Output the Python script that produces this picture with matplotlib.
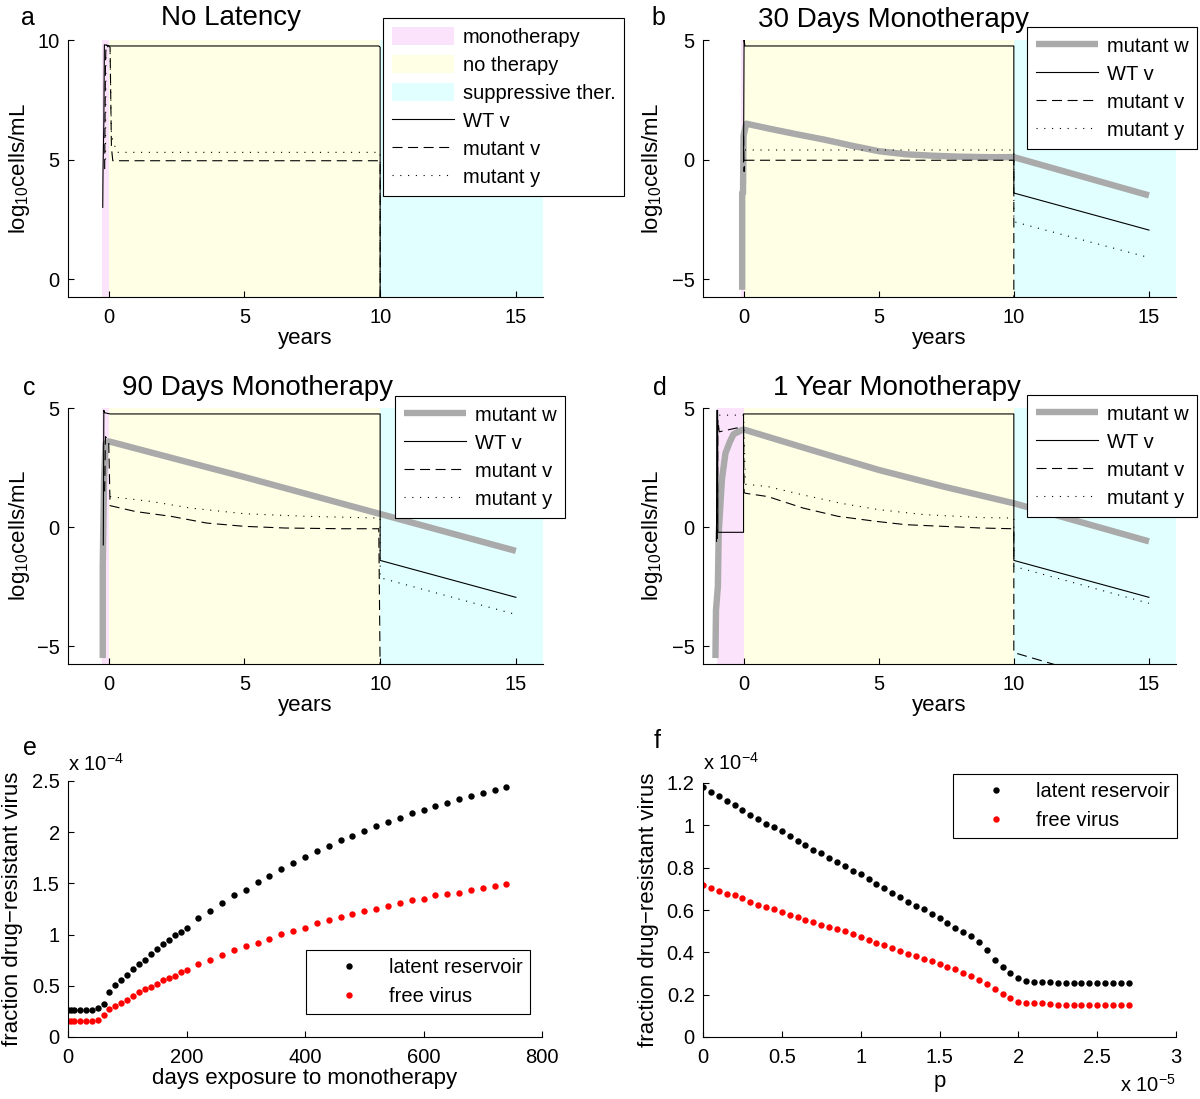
import matplotlib
matplotlib.use('Agg')
import matplotlib.pyplot as plt
from matplotlib.patches import Patch
from matplotlib.lines import Line2D
from matplotlib.ticker import FuncFormatter

plt.rcParams['font.family'] = ['Liberation Sans', 'DejaVu Sans']
plt.rcParams['mathtext.fontset'] = 'custom'
plt.rcParams['mathtext.rm'] = 'Liberation Sans'
plt.rcParams['mathtext.it'] = 'Liberation Sans:italic'
plt.rcParams['mathtext.bf'] = 'Liberation Sans:bold'
plt.rcParams['axes.unicode_minus'] = True

# ---------------- data ----------------
# phase boundaries: [monotherapy start, no-therapy start, suppressive start, end]
a_phase = [-0.25, 0.0, 10.0, 16.0]
b_phase = [-0.08, 0.0, 10.0, 16.0]
c_phase = [-0.25, 0.0, 10.0, 16.0]
d_phase = [-1.0, 0.0, 10.0, 16.0]

# panel a (No Latency)
a_wt_t = [-0.22, -0.21, -0.18, -0.16, 0.05, 9.95, 10.0, 10.0]
a_wt_v = [3.0, 4.5, 6.5, 9.8, 9.75, 9.75, 9.7, -1.0]
a_mv_t = [-0.15, -0.12, -0.1, 0.05, 0.1, 0.15, 10.0, 10.0]
a_mv_v = [4.6, 9.0, 9.8, 9.7, 5.5, 4.95, 4.95, -1.0]
a_my_t = [-0.12, -0.1, 0.05, 0.1, 0.3, 10.0, 10.0]
a_my_v = [5.0, 9.8, 9.6, 6.0, 5.3, 5.3, -1.0]

# panel b (30 days)
b_mw_t = [-0.05, -0.05, -0.02, 0.0, 0.1, 1.0, 2.0, 3.0, 4.0, 5.0, 6.0, 7.0, 8.0, 9.0, 10.0, 15.0]
b_mw_v = [-5.45, -1.4, -1.4, 1.0, 1.5, 1.28, 1.05, 0.83, 0.58, 0.35, 0.22, 0.16, 0.12, 0.1, 0.1, -1.5]
b_wt_t = [0.0, 0.02, 0.05, 9.95, 10.0, 10.0, 15.0]
b_wt_v = [-0.1, 5.0, 4.75, 4.75, 4.75, -1.4, -2.95]
b_mv_t = [0.0, 0.02, 0.05, 0.1, 10.0, 10.0]
b_mv_v = [1.0, -0.5, -0.03, -0.03, -0.03, -6.0]
b_my_t = [0.05, 10.0, 10.0, 15.0]
b_my_v = [0.4, 0.4, -2.6, -4.1]

# panel c (90 days)
c_mw_t = [-0.22, -0.22, -0.2, -0.17, -0.12, 0.0, 5.0, 10.0, 15.0]
c_mw_v = [-5.5, -1.7, 0.0, 2.0, 3.5, 3.6, 2.1, 0.55, -1.0]
c_wt_t = [-0.2, -0.18, -0.15, 0.05, 9.95, 10.0, 10.0, 15.0]
c_wt_v = [-0.75, 4.9, 4.8, 4.75, 4.75, 4.75, -1.4, -2.95]
c_mv_t = [-0.15, -0.12, 0.0, 0.05, 1.0, 2.3, 3.6, 5.0, 6.5, 8.6, 9.95, 10.0]
c_mv_v = [1.5, 3.8, 3.6, 0.9, 0.65, 0.45, 0.17, 0.03, -0.04, -0.07, -0.07, -6.0]
c_my_t = [0.05, 1.6, 3.0, 5.0, 7.3, 9.9, 10.0, 10.0, 15.0]
c_my_v = [1.28, 1.07, 0.8, 0.56, 0.45, 0.38, 0.38, -2.13, -3.67]

# panel d (1 year)
d_mw_t = [-1.04, -1.02, -0.95, -0.92, -0.8, -0.67, -0.5, -0.37, -0.2, 0.0, 2.5, 5.0, 7.4, 10.0, 15.0]
d_mw_v = [-5.5, -3.5, -2.5, -0.25, 2.0, 3.1, 3.6, 3.9, 4.0, 4.1, 3.24, 2.4, 1.7, 1.0, -0.6]
d_wt_t = [-1.0, -0.99, -0.96, -0.95, 0.0, 0.0, 10.0, 10.0, 15.0]
d_wt_v = [-0.6, 4.9, 4.9, -0.22, -0.22, 4.75, 4.75, -1.4, -2.95]
d_mv_t = [-0.97, -0.95, -0.9, -0.3, 0.0, 0.02, 0.07, 0.9, 2.2, 3.5, 4.9, 6.0, 7.4, 8.8, 9.95, 10.0, 10.0, 11.5]
d_mv_v = [-0.5, 4.5, 4.0, 4.15, 4.2, 1.45, 1.42, 1.28, 0.8, 0.45, 0.24, 0.1, 0.03, -0.04, -0.07, -0.07, -5.27, -5.77]
d_my_t = [-0.9, -0.1, 0.0, 0.07, 0.9, 2.2, 3.6, 5.0, 6.7, 8.8, 9.9, 10.0, 10.0, 15.0]
d_my_v = [4.7, 4.7, 4.7, 1.8, 1.7, 1.35, 1.0, 0.73, 0.52, 0.4, 0.38, 0.38, -1.65, -3.2]

# panel e
e_days = [0, 5, 10, 20, 30, 40, 50, 60, 70, 80, 90, 100, 110, 120, 130, 140, 150, 160, 170, 180, 190, 200,
          220, 240, 260, 280, 300, 320, 340, 360, 380, 400, 420, 440, 460, 480, 500, 520, 540, 560, 580,
          600, 620, 640, 660, 680, 700, 720, 740]
e_latent = [0.26, 0.26, 0.26, 0.26, 0.26, 0.26, 0.28, 0.32, 0.44, 0.51, 0.56, 0.605, 0.667, 0.71, 0.755,
            0.81, 0.856, 0.905, 0.944, 0.993, 1.025, 1.068, 1.16, 1.23, 1.305, 1.383, 1.44, 1.517, 1.575,
            1.637, 1.70, 1.758, 1.816, 1.862, 1.92, 1.966, 2.01, 2.057, 2.10, 2.14, 2.19, 2.22, 2.26, 2.29,
            2.32, 2.353, 2.386, 2.41, 2.445]
e_free = [0.156, 0.156, 0.156, 0.156, 0.156, 0.156, 0.17, 0.21, 0.277, 0.30, 0.33, 0.365, 0.397, 0.44, 0.47,
          0.488, 0.52, 0.553, 0.576, 0.60, 0.635, 0.65, 0.71, 0.755, 0.80, 0.846, 0.885, 0.918, 0.96, 1.01,
          1.035, 1.068, 1.113, 1.14, 1.17, 1.20, 1.23, 1.247, 1.276, 1.31, 1.335, 1.35, 1.383, 1.40, 1.41,
          1.44, 1.455, 1.47, 1.497]

# panel f
f_p = [i * 0.05 for i in range(55)]  # in units of 1e-5
f_latent = [1.18, 1.158, 1.138, 1.114, 1.094, 1.071, 1.049, 1.029, 1.008, 0.993, 0.971, 0.951, 0.927, 0.907,
            0.884, 0.868, 0.846, 0.826, 0.806, 0.784, 0.771, 0.748, 0.725, 0.704, 0.681, 0.662, 0.639, 0.620,
            0.603, 0.581, 0.561, 0.538, 0.517, 0.496, 0.475, 0.447, 0.410, 0.366, 0.330, 0.304, 0.280, 0.265,
            0.262, 0.262, 0.259, 0.254, 0.254, 0.254, 0.254, 0.254, 0.254, 0.254, 0.254, 0.254, 0.254]
f_free = [0.72, 0.706, 0.69, 0.675, 0.67, 0.655, 0.639, 0.623, 0.612, 0.603, 0.592, 0.577, 0.569, 0.553, 0.541,
          0.530, 0.519, 0.510, 0.499, 0.488, 0.471, 0.457, 0.444, 0.433, 0.421, 0.405, 0.393, 0.385, 0.369,
          0.358, 0.343, 0.330, 0.319, 0.304, 0.288, 0.268, 0.252, 0.226, 0.203, 0.182, 0.167, 0.161, 0.161,
          0.161, 0.156, 0.153, 0.153, 0.153, 0.153, 0.153, 0.153, 0.153, 0.153, 0.153, 0.153]

time_ticks = [0, 5, 10, 15]

# ---------------- style ----------------
PINK = '#fbe3fb'
YELLOW = '#ffffe6'
CYAN = '#e1ffff'
GRAY = '#aaaaaa'
W, H = 1200, 1099
TICK_FS = 14.5
LAB_FS = 16
TITLE_FS = 20
LET_FS = 18
LEG_FS = 14.5
THIN = 0.8
THICK = 4.6
DASH = (0, (9, 5))
DOT = (0, (1, 6))

fig = plt.figure(figsize=(W / 100, H / 100), dpi=100)


def px_rect(x0, x1, y0, y1):
    return [x0 / W, 1 - y1 / H, (x1 - x0) / W, (y1 - y0) / H]


def style_axes(ax):
    for s in ['top', 'right']:
        ax.spines[s].set_visible(False)
    for s in ['left', 'bottom']:
        ax.spines[s].set_linewidth(0.8)
        ax.spines[s].set_color('k')
    ax.tick_params(direction='in', length=4, width=0.8, labelsize=TICK_FS, pad=6)
    ax.tick_params(axis='x', pad=8)


def fig_text(x, y, s, **kw):
    fig.text(x / W, 1 - y / H, s, **kw)


def time_panel(rect, phase, ylim, yticks, series, handles, labels, leg_xy):
    ax = fig.add_axes(rect)
    style_axes(ax)
    ax.axvspan(phase[0], phase[1], color=PINK, lw=0, zorder=0)
    ax.axvspan(phase[1], phase[2], color=YELLOW, lw=0, zorder=0)
    ax.axvspan(phase[2], phase[3], color=CYAN, lw=0, zorder=0)
    for t, v, kw in series:
        ax.plot(t, v, **kw)
    ax.set_xlim(-1.5, 16)
    ax.set_ylim(*ylim)
    ax.set_xticks(time_ticks)
    ax.set_yticks(yticks)
    ax.set_xlabel('years', fontsize=LAB_FS)
    ax.set_ylabel(r'log$_{\mathregular{10}}$cells/mL', fontsize=LAB_FS)
    leg = ax.legend(handles, labels, loc='upper left',
                    bbox_to_anchor=(leg_xy[0] / W, 1 - leg_xy[1] / H),
                    bbox_transform=fig.transFigure, borderaxespad=0,
                    fontsize=LEG_FS, frameon=True, fancybox=False, framealpha=1,
                    edgecolor='k', handlelength=3.1, handleheight=1.0,
                    handletextpad=0.4, labelspacing=0.4, borderpad=0.45)
    leg.get_frame().set_linewidth(0.8)
    leg.set_zorder(10)
    return ax


wt_kw = dict(color='k', lw=THIN, ls='-')
mv_kw = dict(color='k', lw=THIN, ls=DASH)
my_kw = dict(color='k', lw=THIN, ls=DOT)
mw_kw = dict(color=GRAY, lw=THICK, ls='-', solid_capstyle='butt')

h_wt = Line2D([], [], **wt_kw)
h_mv = Line2D([], [], **mv_kw)
h_my = Line2D([], [], **my_kw)
h_mw = Line2D([], [], **mw_kw)
h_pink = Patch(facecolor=PINK, edgecolor='none')
h_yel = Patch(facecolor=YELLOW, edgecolor='none')
h_cyan = Patch(facecolor=CYAN, edgecolor='none')

# panel a
ax_a = time_panel(px_rect(68, 543, 40, 297), a_phase, (-0.75, 10), [0, 5, 10],
                  [(a_wt_t, a_wt_v, wt_kw), (a_mv_t, a_mv_v, mv_kw), (a_my_t, a_my_v, my_kw)],
                  [h_pink, h_yel, h_cyan, h_wt, h_mv, h_my],
                  ['monotherapy', 'no therapy', 'suppressive ther.', 'WT v', 'mutant v', 'mutant y'],
                  (383, 18))
# panel b
ax_b = time_panel(px_rect(703, 1176, 40, 297), b_phase, (-5.75, 5), [-5, 0, 5],
                  [(b_mw_t, b_mw_v, mw_kw), (b_wt_t, b_wt_v, wt_kw), (b_mv_t, b_mv_v, mv_kw),
                   (b_my_t, b_my_v, my_kw)],
                  [h_mw, h_wt, h_mv, h_my], ['mutant w', 'WT v', 'mutant v', 'mutant y'],
                  (1027, 27))
# panel c
ax_c = time_panel(px_rect(68, 543, 408, 664), c_phase, (-5.75, 5), [-5, 0, 5],
                  [(c_mw_t, c_mw_v, mw_kw), (c_wt_t, c_wt_v, wt_kw), (c_mv_t, c_mv_v, mv_kw),
                   (c_my_t, c_my_v, my_kw)],
                  [h_mw, h_wt, h_mv, h_my], ['mutant w', 'WT v', 'mutant v', 'mutant y'],
                  (395, 396))
# panel d
ax_d = time_panel(px_rect(703, 1176, 408, 664), d_phase, (-5.75, 5), [-5, 0, 5],
                  [(d_mw_t, d_mw_v, mw_kw), (d_wt_t, d_wt_v, wt_kw), (d_mv_t, d_mv_v, mv_kw),
                   (d_my_t, d_my_v, my_kw)],
                  [h_mw, h_wt, h_mv, h_my], ['mutant w', 'WT v', 'mutant v', 'mutant y'],
                  (1027, 395))

for ax, lx in [(ax_a, -0.076), (ax_c, -0.076)]:
    ax.yaxis.set_label_coords(lx, 0.5)
for ax, lx in [(ax_b, -0.080), (ax_d, -0.080)]:
    ax.yaxis.set_label_coords(lx, 0.5)
for ax in [ax_a, ax_b, ax_c, ax_d]:
    ax.xaxis.set_label_coords(0.5, -0.12)

# panel e
ax_e = fig.add_axes(px_rect(68, 542, 781, 1037))
style_axes(ax_e)
ax_e.plot(e_days, [v * 1e-4 for v in e_latent], 'o', color='k', ms=4.6, mec='none', label='latent reservoir')
ax_e.plot(e_days, [v * 1e-4 for v in e_free], 'o', color='#ff0000', ms=4.6, mec='none', label='free virus')
ax_e.set_xlim(0, 800)
ax_e.set_ylim(0, 2.5e-4)
ax_e.set_xticks([0, 200, 400, 600, 800])
ax_e.set_yticks([0, 0.5e-4, 1e-4, 1.5e-4, 2e-4, 2.5e-4])
ax_e.yaxis.set_major_formatter(FuncFormatter(lambda v, _: f'{round(v * 1e4, 3):g}'))
ax_e.set_xlabel('days exposure to monotherapy', fontsize=LAB_FS)
ax_e.set_ylabel('fraction drug\u2212resistant virus', fontsize=LAB_FS)
ax_e.yaxis.set_label_coords(-0.095, 0.5)
ax_e.xaxis.set_label_coords(0.5, -0.12)
ax_e.text(0.0, 1.039, r'x 10$^{\mathregular{-4}}$', transform=ax_e.transAxes, ha='left', va='baseline',
          fontsize=TICK_FS)
leg_e = ax_e.legend(loc='upper left', bbox_to_anchor=(306 / W, 1 - 950 / H), bbox_transform=fig.transFigure,
                    borderaxespad=0, fontsize=LEG_FS, fancybox=False, framealpha=1, edgecolor='k',
                    handlelength=3.5, handletextpad=0.2, labelspacing=0.48, borderpad=0.4, numpoints=1)
leg_e.get_frame().set_linewidth(0.8)

# panel f
ax_f = fig.add_axes(px_rect(703, 1176, 783, 1037))
style_axes(ax_f)
ax_f.plot([p * 1e-5 for p in f_p], [v * 1e-4 for v in f_latent], 'o', color='k', ms=4.6, mec='none',
          label='latent reservoir')
ax_f.plot([p * 1e-5 for p in f_p], [v * 1e-4 for v in f_free], 'o', color='#ff0000', ms=4.6, mec='none',
          label='free virus')
ax_f.set_xlim(0, 3e-5)
ax_f.set_ylim(0, 1.2e-4)
ax_f.set_xticks([0, 0.5e-5, 1e-5, 1.5e-5, 2e-5, 2.5e-5, 3e-5])
ax_f.set_yticks([0, 0.2e-4, 0.4e-4, 0.6e-4, 0.8e-4, 1e-4, 1.2e-4])
ax_f.xaxis.set_major_formatter(FuncFormatter(lambda v, _: f'{round(v * 1e5, 3):g}'))
ax_f.yaxis.set_major_formatter(FuncFormatter(lambda v, _: f'{round(v * 1e4, 3):g}'))
ax_f.set_xlabel('p', fontsize=LAB_FS)
ax_f.set_ylabel('fraction drug\u2212resistant virus', fontsize=LAB_FS)
ax_f.yaxis.set_label_coords(-0.093, 0.5)
ax_f.xaxis.set_label_coords(0.5, -0.135)
ax_f.text(0.0, 1.051, r'x 10$^{\mathregular{-4}}$', transform=ax_f.transAxes, ha='left', va='baseline',
          fontsize=TICK_FS)
ax_f.text(1.0, -0.217, r'x 10$^{\mathregular{-5}}$', transform=ax_f.transAxes, ha='right', va='baseline',
          fontsize=TICK_FS)
leg_f = ax_f.legend(loc='upper left', bbox_to_anchor=(953 / W, 1 - 774 / H), bbox_transform=fig.transFigure,
                    borderaxespad=0, fontsize=LEG_FS, fancybox=False, framealpha=1, edgecolor='k',
                    handlelength=3.5, handletextpad=0.2, labelspacing=0.48, borderpad=0.4, numpoints=1)
leg_f.get_frame().set_linewidth(0.8)

# titles and panel letters
fig_text(231, 25, 'No Latency', fontsize=TITLE_FS, ha='center', va='baseline')
fig_text(893, 27, '30 Days Monotherapy', fontsize=TITLE_FS, ha='center', va='baseline')
fig_text(258, 395, '90 Days Monotherapy', fontsize=TITLE_FS, ha='center', va='baseline')
fig_text(897, 395, '1 Year Monotherapy', fontsize=TITLE_FS, ha='center', va='baseline')
for x, y, s in [(27.5, 25, 'a'), (658, 25, 'b'), (29, 395, 'c'), (660, 395, 'd'), (29.5, 755, 'e'),
                (657, 748, 'f')]:
    fig_text(x, y, s, fontsize=LET_FS, ha='center', va='baseline')

fig.savefig('out.png', dpi=100, facecolor='white')
